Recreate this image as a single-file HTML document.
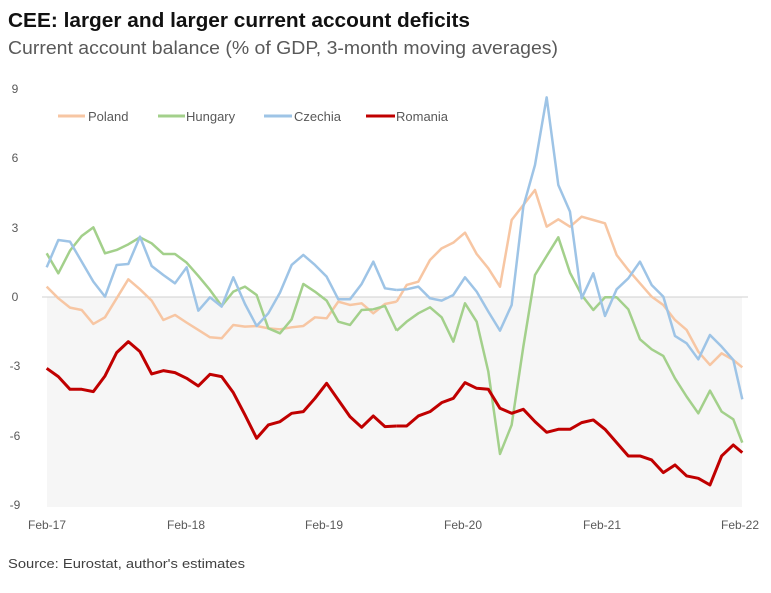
<!DOCTYPE html>
<html><head><meta charset="utf-8"><style>
body{margin:0;background:#fff;width:771px;height:588px;overflow:hidden;font-family:"Liberation Sans",sans-serif}
</style></head><body>
<svg width="771" height="588" xmlns="http://www.w3.org/2000/svg" font-family="Liberation Sans, sans-serif">
<text x="8" y="27" font-size="20" font-weight="bold" fill="#111" textLength="462" lengthAdjust="spacingAndGlyphs">CEE: larger and larger current account deficits</text>
<text x="8" y="54" font-size="18" fill="#595959" textLength="550" lengthAdjust="spacingAndGlyphs">Current account balance (% of GDP, 3-month moving averages)</text>
<rect x="47" y="297" width="695" height="210" fill="#f6f6f6"/>
<line x1="42" y1="297" x2="748" y2="297" stroke="#d0d0d0" stroke-width="1"/>
<g font-size="12" fill="#595959" text-anchor="middle">
<text x="15" y="93">9</text><text x="15" y="162">6</text><text x="15" y="232">3</text><text x="15" y="301">0</text>
<text x="15" y="370">-3</text><text x="15" y="440">-6</text><text x="15" y="509">-9</text>
<text x="47" y="529">Feb-17</text><text x="186" y="529">Feb-18</text><text x="324" y="529">Feb-19</text>
<text x="463" y="529">Feb-20</text><text x="602" y="529">Feb-21</text><text x="740" y="529">Feb-22</text>
</g>
<g font-size="13" fill="#595959">
<line x1="58" y1="116" x2="85" y2="116" stroke="#f7c6a3" stroke-width="3"/><text x="88" y="121">Poland</text>
<line x1="158" y1="116" x2="185" y2="116" stroke="#a3d08b" stroke-width="3"/><text x="186" y="121">Hungary</text>
<line x1="264" y1="116" x2="292" y2="116" stroke="#9ec4e6" stroke-width="3"/><text x="294" y="121">Czechia</text>
<line x1="366" y1="116" x2="395" y2="116" stroke="#c00000" stroke-width="3"/><text x="396" y="121">Romania</text>
</g>
<g fill="none" stroke-linejoin="round" transform="translate(40,80) scale(0.3333)">
<polyline stroke="#f7c6a3" stroke-width="7.5" points="20,620 55,655 90,683 125,690 160,732 195,712 230,655 265,598 300,628 335,662 370,720 405,705 440,728 475,750 510,772 545,775 580,735 615,740 650,738 685,745 720,748 755,742 790,738 825,712 860,715 895,665 930,675 965,670 1000,700 1035,672 1070,665"/>
<polyline stroke="#a3d08b" stroke-width="7.5" points="20,520 55,580 90,512 125,468 160,442 195,520 230,510 265,493 300,472 335,490 370,522 405,522 440,548 475,588 510,630 545,678 580,635 615,620 650,645 685,745 720,760 755,718 790,612 825,635 860,662 895,725 930,735 965,690 1000,688 1035,678 1070,752"/>
<polyline stroke="#9ec4e6" stroke-width="7.5" points="20,562 55,480 90,485 125,545 160,605 195,650 230,555 265,552 300,470 335,558 370,585 405,610 440,562 475,692 510,652 545,680 580,592 615,672 650,738 685,700 720,638 755,555 790,525 825,555 860,590 895,658 930,658 965,612 1000,545 1035,625 1070,630"/>
<polyline stroke="#c00000" stroke-width="9" points="20,865 55,890 90,928 125,928 160,935 195,888 230,818 265,785 300,815 335,882 370,872 405,878 440,895 475,918 510,883 545,890 580,938 615,1005 650,1075 685,1035 720,1025 755,1000 790,995 825,955 860,910 895,960 930,1010 965,1042 1000,1008 1035,1040 1070,1038"/>
</g>
<g fill="none" stroke-linejoin="round" transform="translate(390,80) scale(0.3333)">
<polyline stroke="#f7c6a3" stroke-width="7.5" points="20,665 50,615 85,605 120,540 155,505 190,488 225,458 260,522 295,565 330,620 365,420 400,375 435,330 470,440 505,418 540,440 575,410 610,420 645,430 680,525 715,570 750,610 785,650 820,675 855,720 890,750 925,815 960,855 995,820 1030,840 1057,862"/>
<polyline stroke="#a3d08b" stroke-width="7.5" points="20,752 50,725 85,700 120,682 155,712 190,785 225,670 260,725 295,875 330,1122 365,1035 400,800 435,585 470,528 505,472 540,578 575,645 610,690 645,652 680,652 715,688 750,778 785,808 820,828 855,895 890,950 925,1000 960,932 995,995 1030,1018 1057,1088"/>
<polyline stroke="#9ec4e6" stroke-width="7.5" points="20,630 50,628 85,620 120,655 155,662 190,645 225,592 260,635 295,695 330,752 365,675 400,380 435,255 470,52 505,315 540,395 575,655 610,580 645,708 680,628 715,595 750,545 785,615 820,650 855,768 890,790 925,838 960,765 995,800 1030,840 1057,958"/>
<polyline stroke="#c00000" stroke-width="9" points="20,1038 50,1038 85,1008 120,995 155,968 190,955 225,908 260,925 295,928 330,985 365,1000 400,988 435,1025 470,1057 505,1048 540,1048 575,1028 610,1020 645,1048 680,1088 715,1128 750,1128 785,1140 820,1178 855,1155 890,1188 925,1195 960,1215 995,1128 1030,1095 1057,1118"/>
</g>
<text x="8" y="568" font-size="13" fill="#404040" textLength="237" lengthAdjust="spacingAndGlyphs">Source: Eurostat, author's estimates</text>
</svg>
</body></html>
